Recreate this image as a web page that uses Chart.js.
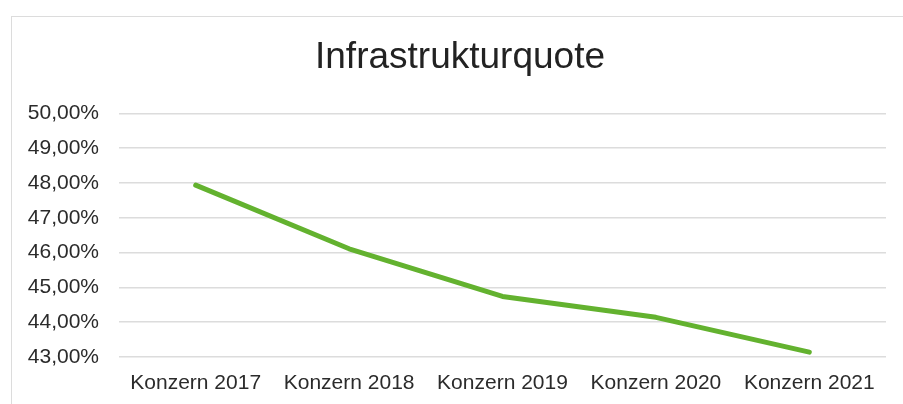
<html>
    <head>
        <title>Infrastrukturquote</title>
        <script src="https://cdn.jsdelivr.net/npm/chart.js/dist/chart.umd.min.js"></script>
        <style>
            body { margin: 0; background: #fff; overflow: hidden; }
            #frame { position: absolute; left: 11px; top: 16px; width: 900px; height: 400px; border: 1.5px solid #dcdcdc; }
            #myChart { position: absolute; left: 0; top: 0; }
        </style>
    </head>
    <body>
        <div id="frame"></div>
        <canvas id="myChart" width="903" height="404"></canvas>
        <script>
            var labels = ["Konzern 2017", "Konzern 2018", "Konzern 2019", "Konzern 2020", "Konzern 2021"];
            var quote = [47.94, 46.11, 44.74, 44.14, 43.14];
            var yMin = 43, yMax = 50;

            const ctx = document.getElementById('myChart').getContext('2d');
            const myChart = new Chart(ctx, {
                type: 'line',
                data: {
                    labels: labels,
                    datasets: [{
                        label: 'Infrastrukturquote',
                        data: quote,
                        yAxisID: 'y',
                        borderColor: '#63b22f',
                        backgroundColor: '#63b22f',
                        borderWidth: 5,
                        borderCapStyle: 'round',
                        borderJoinStyle: 'round',
                        pointRadius: 0,
                        tension: 0,
                    }],
                },
                options: {
                    responsive: false,
                    animation: false,
                    layout: { padding: { left: 17, right: 0, top: 0, bottom: 0 } },
                    plugins: {
                        legend: { display: false },
                        tooltip: { enabled: false },
                        title: {
                            display: true,
                            text: 'Infrastrukturquote',
                            color: '#222',
                            font: { family: 'Liberation Sans', size: 37, weight: 'normal' },
                            padding: { top: 36, bottom: 33 },
                        },
                    },
                    scales: {
                        x: {
                            offset: true,
                            grid: { display: false, drawTicks: false },
                            border: { display: false },
                            ticks: {
                                color: '#2b2b2b',
                                font: { family: 'Liberation Sans', size: 21 },
                                padding: 14,
                                maxRotation: 0,
                            },
                            afterFit: function (scale) { scale.height = 47; },
                        },
                        y: {
                            min: yMin,
                            max: yMax,
                            grid: { color: '#dcdcdc', lineWidth: 1.5, drawTicks: false },
                            border: { display: false },
                            ticks: {
                                stepSize: 1,
                                color: '#2b2b2b',
                                font: { family: 'Liberation Sans', size: 21 },
                                padding: 20,
                                callback: v => v.toFixed(2).replace('.', ',') + '%',
                            },
                            afterFit: function (scale) { scale.width = 102; },
                        },
                        // empty right-hand spacer so the plot stops short of the frame edge
                        yRight: {
                            position: 'right',
                            grid: { display: false, drawTicks: false },
                            border: { display: false },
                            ticks: { display: false },
                            afterFit: function (scale) { scale.width = 17; },
                        },
                    },
                },
            });
        </script>
    </body>
</html>
